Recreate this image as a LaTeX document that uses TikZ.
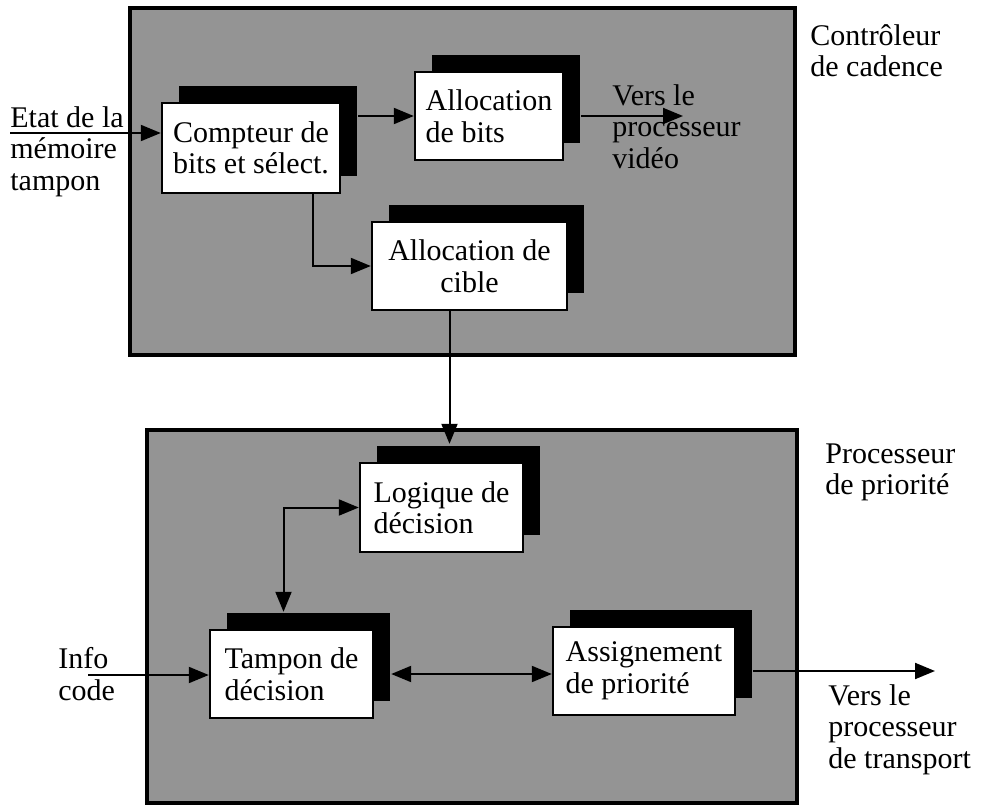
\documentclass[tikz,border=0pt]{standalone}
\usepackage{fontspec}
\setmainfont{Liberation Serif}
\usetikzlibrary{arrows.meta,shadows}
\begin{document}
\begin{tikzpicture}[x=0.5pt,y=-0.5pt,
        font=\fontsize{15}{15.75}\selectfont,
        panel/.style={draw,line width=2pt,fill=black!42},
        blk/.style={draw,line width=1.2pt,fill=white,align=left,inner sep=2pt,
            drop shadow={shadow xshift=8.5pt,shadow yshift=8.5pt,fill=black,opacity=1}},
        lbl/.style={anchor=north west,align=left,inner sep=0pt},
        arr/.style={line width=1pt,-{Triangle[length=10pt,width=8pt]}},
        arrs/.style={line width=1pt,{Triangle[length=10pt,width=8pt]}-{Triangle[length=10pt,width=8pt]}}]
    \useasboundingbox (0,0) rectangle (982,809);
    \draw[panel] (130,8) rectangle (795,355);
    \draw[panel] (147,430) rectangle (797,803);

    \node[blk,minimum width=89pt,minimum height=45pt] (cpt) at (251,148) {Compteur de\\bits et sélect.};
    \node[blk,minimum width=74pt,minimum height=44pt] (bits) at (489,116) {Allocation\\de bits};
    \node[blk,align=center,minimum width=97.5pt,minimum height=44pt] (cible) at (469.5,266) {Allocation de\\cible};
    \node[blk,minimum width=81.5pt,minimum height=44.5pt] (log) at (441.5,507.5) {Logique de\\décision};
    \node[blk,minimum width=81.5pt,minimum height=44pt] (tmp) at (291.5,674) {Tampon de\\décision};
    \node[blk,minimum width=91pt,minimum height=44pt] (asg) at (644,671) {Assignement\\de priorité};

    \node[lbl] (etat) at (10,106) {Etat de la\\mémoire\\tampon};
    \node[lbl] (ctrl) at (810,24) {Contrôleur\\de cadence};
    \node[lbl] (vid) at (612,84) {Vers le\\processeur\\vidéo};
    \node[lbl] (prio) at (825,443) {Processeur\\de priorité};
    \node[lbl] (info) at (58,647) {Info\\code};
    \node[lbl] (trsp) at (828,684) {Vers le\\processeur\\de transport};

    \coordinate (etatS) at (10,133);
    \coordinate (vidO) at (683,116);
    \coordinate (infoS) at (88,675);
    \coordinate (trO) at (935,671);

    \draw[arr] (etatS) -- (etatS -| cpt.west);
    \draw[arr] ([xshift=8.5pt]cpt.east |- bits.west) -- (bits.west);
    \draw[arr] ([xshift=31pt]cpt.south) |- (cible.west);
    \draw[arr] ([xshift=8.5pt]bits.east) -- (vidO);
    \draw[arr] ([xshift=4pt]log.north |- cible.south) -- ([xshift=4pt,yshift=9pt]log.north);
    \draw[arr] (infoS) -- (infoS -| tmp.west);
    \draw[arrs] ([xshift=-4pt,yshift=8.5pt]tmp.north) |- (log.west);
    \draw[arrs] ([xshift=8.5pt]tmp.east) -- (tmp.east -| asg.west);
    \draw[arr] ([xshift=8.5pt]asg.east) -- (trO);
\end{tikzpicture}
\end{document}
